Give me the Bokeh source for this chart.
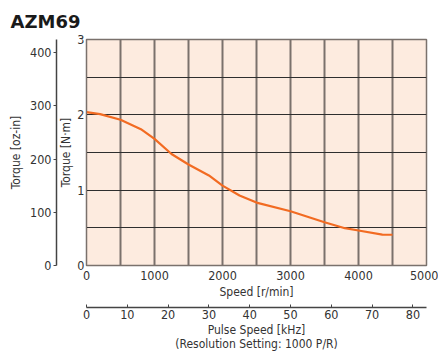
from bokeh.plotting import figure
from bokeh.models import Range1d, LinearAxis, FixedTicker, Title
from bokeh.embed import file_html
from bokeh.resources import INLINE

# ---- data ----
speed_rpm = [0, 200, 500, 800, 1000, 1250, 1500, 1800, 2000, 2250, 2500, 3000, 3500, 3800, 4000, 4350, 4500]
torque_nm = [2.035, 2.01, 1.935, 1.81, 1.68, 1.48, 1.34, 1.195, 1.06, 0.93, 0.835, 0.72, 0.575, 0.495, 0.465, 0.41, 0.408]

nm_ticks = [0, 1, 2, 3]
oz_ticks = [0, 100, 200, 300, 400]
speed_ticks = [0, 1000, 2000, 3000, 4000, 5000]
pulse_ticks = [0, 10, 20, 30, 40, 50, 60, 70, 80]
grid_x = [0, 500, 1000, 1500, 2000, 2500, 3000, 3500, 4000, 4500, 5000]
grid_y = [0, 0.5, 1, 1.5, 2, 2.5, 3]

NM_TO_OZIN = 141.612
RESOLUTION = 1000  # P/R
SPEED_MAX = 5000
TORQUE_MAX = 3

FONT = "DejaVu Sans Condensed"
TXT = "#333333"
GRID_V = "#7a716c"
GRID_H = "#2e2e2e"

p = figure(width=438, height=355,
           x_range=Range1d(0, SPEED_MAX), y_range=Range1d(0, TORQUE_MAX),
           output_backend="svg", toolbar_location=None,
           min_border_left=86, min_border_right=12, min_border_top=39, min_border_bottom=90,
           background_fill_color="#fdebdf", border_fill_color="white",
           outline_line_color=GRID_V, outline_line_width=1.5)

p.extra_y_ranges = {"oz": Range1d(0, TORQUE_MAX * NM_TO_OZIN)}
p.extra_x_ranges = {"pulse": Range1d(0, SPEED_MAX / 60 * RESOLUTION / 1000)}

# title
p.title.text = "AZM69"
p.title.text_font = "DejaVu Sans"
p.title.text_font_style = "bold"
p.title.text_font_size = "18px"
p.title.text_color = "#1a1a1a"
p.title.align = "left"
p.title.offset = -76
p.title.standoff = 15

# grid
p.xgrid.ticker = FixedTicker(ticks=grid_x)
p.ygrid.ticker = FixedTicker(ticks=grid_y)
p.xgrid.grid_line_color = GRID_V
p.xgrid.grid_line_width = 2
p.ygrid.grid_line_color = GRID_H
p.ygrid.grid_line_width = 1.2


def style_axis(ax):
    ax.major_label_text_font = FONT
    ax.major_label_text_font_size = "12.5px"
    ax.major_label_text_color = TXT
    ax.axis_label_text_font = FONT
    ax.axis_label_text_font_size = "12px"
    ax.axis_label_text_font_style = "normal"
    ax.axis_label_text_color = TXT
    ax.minor_tick_line_color = None


# N·m axis (inner left)
ya = p.yaxis[0]
ya.ticker = FixedTicker(ticks=nm_ticks)
style_axis(ya)
ya.axis_label = "Torque [N·m]"
ya.major_tick_out = 0
ya.major_tick_in = 0
ya.major_label_standoff = 2
ya.axis_label_standoff = 1
ya.axis_line_color = GRID_V

# spacer on left
p.add_layout(Title(text=" ", text_font_size="4.5px", standoff=-8), "left")

# oz-in axis (outer left)
oz = LinearAxis(y_range_name="oz", ticker=FixedTicker(ticks=oz_ticks), axis_label="Torque [oz-in]")
style_axis(oz)
oz.major_tick_out = 3
oz.major_tick_in = 0
oz.major_label_standoff = 2
oz.axis_label_standoff = 4
oz.axis_line_color = "#444444"
oz.axis_line_width = 1.5
oz.major_tick_line_color = "#444444"
p.add_layout(oz, "left")

# speed axis (inner bottom)
xa = p.xaxis[0]
xa.ticker = FixedTicker(ticks=speed_ticks)
style_axis(xa)
xa.axis_label = "Speed [r/min]"
xa.major_tick_out = 0
xa.major_tick_in = 0
xa.major_label_standoff = 5
xa.axis_label_standoff = 2
xa.axis_line_color = GRID_V

p.add_layout(Title(text=" ", text_font_size="8.5px", standoff=-6), "below")

# pulse axis (outer bottom)
pa = LinearAxis(x_range_name="pulse", ticker=FixedTicker(ticks=pulse_ticks),
                axis_label="Pulse Speed [kHz]\n(Resolution Setting: 1000 P/R)")
style_axis(pa)
pa.major_tick_out = 0
pa.major_tick_in = 3
pa.major_label_standoff = 2
pa.axis_label_standoff = 1
pa.axis_line_color = "#444444"
pa.axis_line_width = 1.5
pa.major_tick_line_color = "#444444"
pa.axis_label_text_line_height = 1.0
p.add_layout(pa, "below")

# curve
p.line(speed_rpm, torque_nm, line_color="#f26b22", line_width=2.2)

open("out.html", "w").write(file_html(p, INLINE))
